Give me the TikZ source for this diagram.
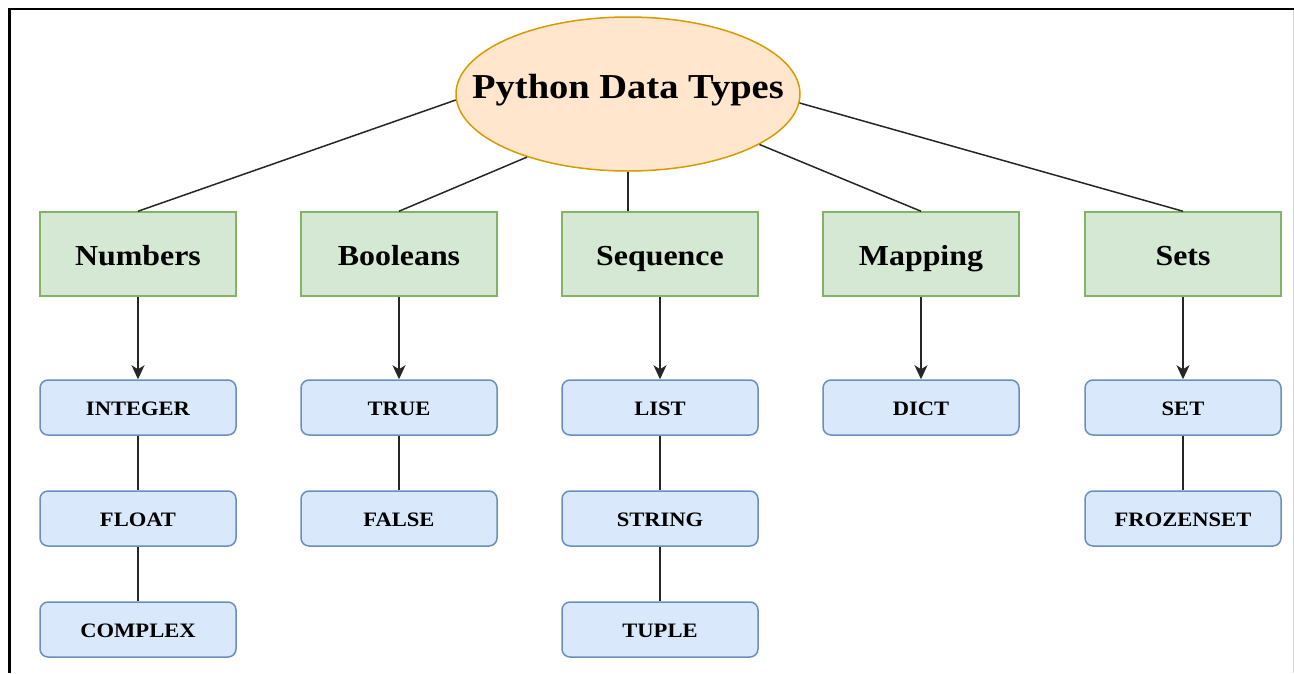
\documentclass[tikz,border=0pt]{standalone}
\usepackage{fontspec}
\newfontfamily\dtfont{Liberation Serif}[FakeStretch=1.1]
\usetikzlibrary{shapes.geometric,arrows.meta}
\definecolor{ellfill}{HTML}{FFE6CC}
\definecolor{elldraw}{HTML}{D79B00}
\definecolor{grfill}{HTML}{D5E8D4}
\definecolor{grdraw}{HTML}{82B366}
\definecolor{blfill}{HTML}{DAE8FC}
\definecolor{bldraw}{HTML}{6C8EBF}
\tikzset{
  catbox/.style={draw=grdraw,fill=grfill,line width=1.5pt,minimum width=196pt,minimum height=84pt,inner sep=0pt,
    font=\dtfont\bfseries\fontsize{29}{30}\selectfont,text height=22pt,text depth=0pt},
  itembox/.style={draw=bldraw,fill=blfill,line width=1.5pt,rounded corners=8pt,minimum width=196pt,minimum height=55pt,inner sep=0pt,
    font=\dtfont\bfseries\fontsize{20.5}{22}\selectfont,text height=15pt,text depth=0pt},
  link/.style={line width=1.5pt,black!85},
  arr/.style={link,-{Stealth[length=14pt,width=13pt,inset=4pt]}}
}
\begin{document}
\begin{tikzpicture}[x=1pt,y=-1pt]
\useasboundingbox (0,0) rectangle (1294,673);
% frame
\draw[gray!35,line width=1pt] (1293.3,9) -- (1293.3,673);
\draw[line width=2.4pt] (9.3,673) -- (9.3,9) -- (1294,9);
% root
\node[ellipse,draw=elldraw,fill=ellfill,line width=1.5pt,minimum width=344pt,minimum height=154pt,inner sep=0pt] (e) at (628,94) {};
\node[anchor=base,inner sep=0pt,font=\dtfont\bfseries\fontsize{35}{36}\selectfont] (title) at (628,98.5) {Python Data Types};
% categories
\node[catbox] (num) at (138,254) {Numbers};
\node[catbox] (boo) at (399,254) {Booleans};
\node[catbox] (seq) at (660,254) {Sequence};
\node[catbox] (map) at (921,254) {Mapping};
\node[catbox] (set) at (1183,254) {Sets};
% items
\node[itembox] (int) at (138,407.5) {INTEGER};
\node[itembox] (flo) at (138,518.5) {FLOAT};
\node[itembox] (com) at (138,629.5) {COMPLEX};
\node[itembox] (tru) at (399,407.5) {TRUE};
\node[itembox] (fal) at (399,518.5) {FALSE};
\node[itembox] (lis) at (660,407.5) {LIST};
\node[itembox] (str) at (660,518.5) {STRING};
\node[itembox] (tup) at (660,629.5) {TUPLE};
\node[itembox] (dic) at (921,407.5) {DICT};
\node[itembox] (st) at (1183,407.5) {SET};
\node[itembox] (fro) at (1183,518.5) {FROZENSET};
% root links
\draw[link] (e.182.3) -- (num.north);
\draw[link] (e.212.5) -- (boo.north);
\draw[link] (e.south) -- (e.south |- seq.north);
\draw[link] (e.339.3) -- (map.north);
\draw[link] (e.357.3) -- (set.north);
% arrows
\draw[arr] (num.south) -- (int.north);
\draw[arr] (boo.south) -- (tru.north);
\draw[arr] (seq.south) -- (lis.north);
\draw[arr] (map.south) -- (dic.north);
\draw[arr] (set.south) -- (st.north);
% chains
\draw[link] (int.south) -- (flo.north);
\draw[link] (flo.south) -- (com.north);
\draw[link] (tru.south) -- (fal.north);
\draw[link] (lis.south) -- (str.north);
\draw[link] (str.south) -- (tup.north);
\draw[link] (st.south) -- (fro.north);
\end{tikzpicture}
\end{document}
